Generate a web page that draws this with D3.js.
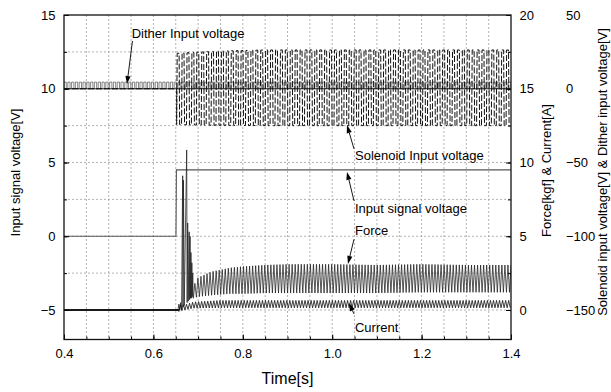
<!DOCTYPE html>
<html>
<head>
<meta charset="utf-8">
<script src="https://cdn.jsdelivr.net/npm/d3@7"></script>
<style>
body { margin: 0; background: #fff; }
svg { display: block; font-family: "Liberation Sans", Arial, sans-serif; }
</style>
</head>
<body>
<svg id="chart" width="611" height="392"></svg>
<script>
// ---- data ----
const timeTicks = [0.4, 0.6, 0.8, 1.0, 1.2, 1.4];
const inputTicks = [-5, 0, 5, 10, 15];
const forceTicks = [0, 5, 10, 15, 20];
const solenoidTicks = [-150, -100, -50, 0, 50];

// input signal voltage [V] (left axis)
const inputTime = [0.4, 0.6505, 0.651, 0.6515, 1.4];
const inputVolt = [0, 0, 2.2, 4.5, 4.5];

// dither input voltage [V] (right axis 2), square pulses
const ditherPeriod = 0.0085;
const ditherEnvTime = [0.4, 1.4];
const ditherEnvHigh = [4.5, 4.5];
const ditherEnvLow = [0, 0];

// solenoid input voltage [V] (right axis 2), square wave envelope
const solenoidPeriod = 0.011;
const solenoidEnvTime = [0.652, 0.68, 0.75, 0.85, 1.4];
const solenoidEnvHigh = [24, 24.5, 25.5, 26.3, 26.3];
const solenoidEnvLow = [-24.3, -24.5, -24.8, -25, -25];

// force [kgf] (right axis 1): start-up spikes, then oscillation envelope
const forceSpikeTime = [0.4, 0.655, 0.657, 0.659, 0.661, 0.663, 0.6655, 0.6662, 0.6672, 0.669,
  0.6745, 0.6755, 0.6767, 0.678, 0.680, 0.681, 0.682, 0.683, 0.684, 0.685, 0.686, 0.687, 0.688, 0.689];
const forceSpikeVal = [0, 0, 0.4, 0.0, 0.5, 0.05, 9.1, 0.2, 8.8, 0.3,
  10.85, 0.5, 5.9, 0.6, 5.3, 0.7, 5.0, 0.8, 3.9, 0.8, 3.2, 0.9, 2.5, 0.8];
const forcePeriod = 0.0068;
const forceEnvTime = [0.689, 0.70, 0.73, 0.77, 0.80, 0.85, 0.90, 1.0, 1.1, 1.2, 1.3, 1.4];
const forceEnvHigh = [1.6, 2.2, 2.6, 2.85, 2.95, 3.05, 3.1, 3.1, 3.05, 3.1, 3.05, 3.05];
const forceEnvLow = [0.8, 0.9, 1.0, 1.1, 1.1, 1.15, 1.15, 1.15, 1.15, 1.2, 1.2, 1.2];

// current [A] (right axis 1)
const currentPeriod = 0.0068;
const currentEnvTime = [0.657, 0.67, 0.69, 0.75, 1.4];
const currentEnvHigh = [0.35, 0.35, 0.55, 0.65, 0.65];
const currentEnvLow = [-0.1, 0.0, 0.12, 0.15, 0.15];

// annotations: [text, textTime, textVolt, arrowFromTime, arrowFromVolt, tipTime, tipVolt] (left-axis units)
const annotations = [
  ["Dither Input voltage", 0.5515, 13.41, 0.5532, 13.24, 0.5409, 10.32],
  ["Solenoid Input voltage", 1.051, 5.2, 1.0488, 5.92, 1.0331, 7.54],
  ["Input signal voltage", 1.051, 1.55, 1.0488, 2.4, 1.0331, 4.36],
  ["Force", 1.051, 0.1, 1.0488, -0.2, 1.0353, -1.88],
  ["Current", 1.051, -6.5, 1.0488, -5.27, 1.0376, -4.53]
];

// ---- layout ----
const W = 611, H = 392;
const margin = { top: 15, right: 100, bottom: 52.5, left: 64 };
const svg = d3.select("#chart");

const x = d3.scaleLinear().domain([0.4, 1.4]).range([margin.left, W - margin.right]);
const yIn = d3.scaleLinear().domain([-7, 15]).range([H - margin.bottom, margin.top]);
const yF = d3.scaleLinear().domain([-2, 20]).range(yIn.range());
const yS = d3.scaleLinear().domain([-170, 50]).range(yIn.range());

// build an oscillating trace from its read envelope
function zigzag(t0, t1, period, ts, his, los) {
  const hi = d3.scaleLinear().domain(ts).range(his).clamp(true);
  const lo = d3.scaleLinear().domain(ts).range(los).clamp(true);
  const pts = [];
  for (let k = 0; t0 + k * period / 2 <= t1; k++) {
    const t = t0 + k * period / 2;
    pts.push([t, k % 2 ? hi(t) : lo(t)]);
  }
  return pts;
}

function square(t0, t1, period, duty, edge, ts, his, los) {
  const hi = d3.scaleLinear().domain(ts).range(his).clamp(true);
  const lo = d3.scaleLinear().domain(ts).range(los).clamp(true);
  const pts = [];
  for (let c = 0; t0 + c * period < t1; c++) {
    const t = t0 + c * period;
    const tm = t + duty * period;
    pts.push([t, lo(t)], [t + edge, hi(t)], [tm, hi(tm)], [Math.min(tm + edge, t1), lo(tm)]);
  }
  return pts;
}

// grid
const grid = svg.append("g").attr("stroke", "#a0a0a0").attr("stroke-width", 0.8).attr("stroke-dasharray", "2,2");
const gridTimes = d3.range(9, 28).map(i => +(i * 0.05).toFixed(2));
const gridVolts = d3.range(-2, 6).map(i => i * 2.5);
grid.selectAll(".gx").data(gridTimes).enter().append("line")
  .attr("x1", d => x(d)).attr("x2", d => x(d))
  .attr("y1", yIn.range()[1]).attr("y2", yIn.range()[0]);
grid.selectAll(".gy").data(gridVolts).enter().append("line")
  .attr("x1", x.range()[0]).attr("x2", x.range()[1])
  .attr("y1", d => yIn(d)).attr("y2", d => yIn(d));

// clip
svg.append("clipPath").attr("id", "plot").append("rect")
  .attr("x", x.range()[0]).attr("y", yIn.range()[1])
  .attr("width", x.range()[1] - x.range()[0]).attr("height", yIn.range()[0] - yIn.range()[1]);
const plot = svg.append("g").attr("clip-path", "url(#plot)");

const lineS = d3.line().x(d => x(d[0])).y(d => yS(d[1]));
const lineF = d3.line().x(d => x(d[0])).y(d => yF(d[1]));
const lineIn = d3.line().x(d => x(d[0])).y(d => yIn(d[1]));

// dither
plot.append("path")
  .datum(square(0.4, 1.4, ditherPeriod, 0.6, 0, ditherEnvTime, ditherEnvHigh, ditherEnvLow))
  .attr("fill", "none").attr("stroke", "#333").attr("stroke-width", 0.6)
  .attr("d", lineS);
plot.append("path")
  .datum([[0.4, 0], [1.4, 0]])
  .attr("fill", "none").attr("stroke", "#222").attr("stroke-width", 1)
  .attr("d", lineS);

// solenoid
plot.append("path")
  .datum([[0.4, 0], [0.652, 0]].concat(square(0.652, 1.4, solenoidPeriod, 0.5, 0.0012, solenoidEnvTime, solenoidEnvHigh, solenoidEnvLow)))
  .attr("fill", "none").attr("stroke", "#111").attr("stroke-width", 1)
  .attr("stroke-dasharray", "6,2")
  .attr("d", lineS);

// input signal
plot.append("path")
  .datum(inputTime.map((t, i) => [t, inputVolt[i]]))
  .attr("fill", "none").attr("stroke", "#555").attr("stroke-width", 1.1)
  .attr("d", lineIn);

// force
const forceData = forceSpikeTime.map((t, i) => [t, forceSpikeVal[i]])
  .concat(zigzag(0.6894, 1.4, forcePeriod, forceEnvTime, forceEnvHigh, forceEnvLow));
plot.append("path")
  .datum(forceData)
  .attr("fill", "none").attr("stroke", "#1e1e1e").attr("stroke-width", 0.75)
  .attr("d", lineF);

// current
const currentData = [[0.4, 0], [0.657, 0]]
  .concat(zigzag(0.657, 1.4, currentPeriod, currentEnvTime, currentEnvHigh, currentEnvLow));
plot.append("path")
  .datum(currentData)
  .attr("fill", "none").attr("stroke", "#111").attr("stroke-width", 0.8)
  .attr("d", lineF);
plot.append("path")
  .datum([[0.4, 0], [0.657, 0]])
  .attr("fill", "none").attr("stroke", "#000").attr("stroke-width", 1.4)
  .attr("d", lineF);

// axes
const fontSize = 13;
function styleAxis(g) {
  g.select(".domain").remove();
  g.selectAll("text").attr("font-size", fontSize).attr("font-family", "Liberation Sans, Arial, sans-serif").attr("fill", "#000");
  g.selectAll("line").attr("stroke", "#000");
}
const minorTimes = d3.range(8, 29).map(i => +(i * 0.05).toFixed(2));

svg.append("g").attr("transform", `translate(0,${yIn.range()[0]})`)
  .call(d3.axisBottom(x).tickValues(minorTimes).tickSize(-3).tickFormat(""))
  .call(styleAxis);
svg.append("g").attr("transform", `translate(0,${yIn.range()[0]})`)
  .call(d3.axisBottom(x).tickValues(timeTicks).tickSize(-5).tickPadding(9.5).tickFormat(d3.format(".1f")))
  .call(styleAxis);

svg.append("g").attr("transform", `translate(${x.range()[0]},0)`)
  .call(d3.axisLeft(yIn).tickValues(gridVolts).tickSize(-3).tickFormat(""))
  .call(styleAxis);
svg.append("g").attr("transform", `translate(${x.range()[0]},0)`)
  .call(d3.axisLeft(yIn).tickValues(inputTicks).tickSize(-5).tickPadding(8.5))
  .call(styleAxis);

svg.append("g").attr("transform", `translate(${x.range()[1]},0)`)
  .call(d3.axisRight(yF).tickValues(gridVolts.map(v => v + 5)).tickSize(-3).tickFormat(""))
  .call(styleAxis);
svg.append("g").attr("transform", `translate(${x.range()[1]},0)`)
  .call(d3.axisRight(yF).tickValues(forceTicks).tickSize(-5).tickPadding(8.5))
  .call(styleAxis);

svg.append("g").attr("transform", `translate(${x.range()[1] + 55},0)`)
  .call(d3.axisRight(yS).tickValues(solenoidTicks).tickSize(0).tickPadding(0))
  .call(styleAxis);

// frame
svg.append("rect")
  .attr("x", x.range()[0]).attr("y", yIn.range()[1])
  .attr("width", x.range()[1] - x.range()[0]).attr("height", yIn.range()[0] - yIn.range()[1])
  .attr("fill", "none").attr("stroke", "#111").attr("stroke-width", 1.3);

// axis titles
svg.append("text").attr("x", (x.range()[0] + x.range()[1]) / 2).attr("y", 384)
  .attr("text-anchor", "middle").attr("font-size", 16).text("Time[s]");
svg.append("text").attr("transform", "translate(19.5,172.5) rotate(-90)")
  .attr("text-anchor", "middle").attr("font-size", fontSize).text("Input signal voltage[V]");
svg.append("text").attr("transform", "translate(551,170.5) rotate(-90)")
  .attr("text-anchor", "middle").attr("font-size", fontSize).text("Force[kgf] & Current[A]");
svg.append("text").attr("transform", "translate(606.5,172) rotate(-90)")
  .attr("text-anchor", "middle").attr("font-size", fontSize).text("Solenoid input voltage[V] & Dither input voltage[V]");

// annotations
const ann = svg.append("g");
annotations.forEach(a => {
  const [label, tt, tv, ft, fv, pt, pv] = a;
  ann.append("text").attr("x", x(tt)).attr("y", yIn(tv)).attr("font-size", fontSize).text(label);
  const x0 = x(ft), y0 = yIn(fv), x1 = x(pt), y1 = yIn(pv);
  const ang = Math.atan2(y1 - y0, x1 - x0);
  const len = 8, hw = 2.6;
  const bx = x1 - len * Math.cos(ang), by = y1 - len * Math.sin(ang);
  ann.append("line").attr("x1", x0).attr("y1", y0).attr("x2", bx).attr("y2", by)
    .attr("stroke", "#000").attr("stroke-width", 0.9);
  ann.append("path")
    .attr("d", `M${x1},${y1}L${bx - hw * Math.sin(ang)},${by + hw * Math.cos(ang)}L${bx + hw * Math.sin(ang)},${by - hw * Math.cos(ang)}Z`)
    .attr("fill", "#000");
});
</script>
</body>
</html>
